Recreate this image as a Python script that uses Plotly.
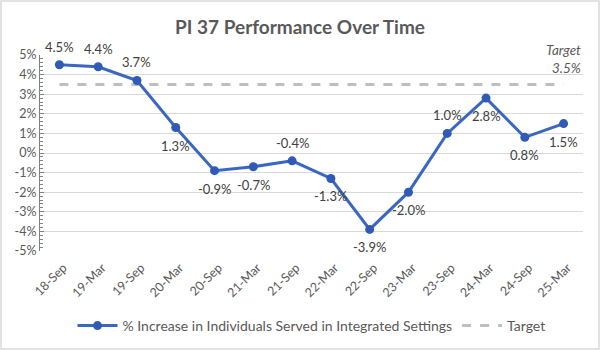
import plotly.graph_objects as go

categories = ["18-Sep", "19-Mar", "19-Sep", "20-Mar", "20-Sep", "21-Mar", "21-Sep",
              "22-Mar", "22-Sep", "23-Mar", "23-Sep", "24-Mar", "24-Sep", "25-Mar"]
pct_increase = [4.5, 4.4, 3.7, 1.3, -0.9, -0.7, -0.4, -1.3, -3.9, -2.0, 1.0, 2.8, 0.8, 1.5]
target_value = 3.5
target = [target_value] * len(categories)
y_ticks = [-5, -4, -3, -2, -1, 0, 1, 2, 3, 4, 5]
label_side = ["above", "above", "above", "below", "below", "below", "above",
              "below", "below", "below", "above", "below", "below", "below"]

FONT = "Lato"
GRAY = "#595959"

fig = go.Figure()
fig.add_trace(go.Scatter(
    x=categories, y=target, mode="lines", name="Target",
    line=dict(color="#bfbfbf", width=3, dash="dash"),
    hoverinfo="skip",
))
fig.add_trace(go.Scatter(
    x=categories, y=pct_increase, mode="lines+markers",
    name="% Increase in Individuals Served in Integrated Settings",
    line=dict(color="#3a67c2", width=3),
    marker=dict(color="#2f5bb7", size=9),
    cliponaxis=False,
))

annotations = []
for c, v, side in zip(categories, pct_increase, label_side):
    annotations.append(dict(
        x=c, y=v, xref="x", yref="y", text=f"{v:.1f}%", showarrow=False,
        yshift=18 if side == "above" else -18,
        font=dict(family=FONT, size=13, color="#404040"),
    ))
annotations.append(dict(text="<i>Target</i><br><i>3.5%</i>", xref="paper", yref="paper",
                        x=1.0, y=1 + 15 / 196, xanchor="right", yanchor="top", align="right",
                        showarrow=False, font=dict(family=FONT, size=13.5, color=GRAY)))

fig.update_layout(
    width=600, height=350,
    margin=dict(l=40, r=17, t=55, b=99, autoexpand=False),
    paper_bgcolor="white", plot_bgcolor="white",
    font=dict(family=FONT, color=GRAY),
    title=dict(text="<b>PI 37 Performance Over Time</b>", x=0.5, xanchor="center",
               y=1 - 27 / 350, yanchor="middle",
               font=dict(family=FONT, size=19, color=GRAY)),
    showlegend=True,
    legend=dict(orientation="h", x=0.5, xanchor="center", yref="container",
                y=1 - 326 / 350, yanchor="middle",
                font=dict(family=FONT, size=14, color=GRAY), traceorder="reversed",
                itemwidth=40),
    xaxis=dict(type="category", range=[-0.5, len(categories) - 0.5], automargin=False,
               showgrid=False, zeroline=False, showline=False,
               tickangle=-45, tickfont=dict(family=FONT, size=12.5, color=GRAY), ticks="",
               ticklabelstandoff=6, ticklabelshift=4),
    yaxis=dict(range=[-5, 5], tickvals=y_ticks, ticktext=[f"{t}%" for t in y_ticks],
               automargin=False,
               showgrid=True, gridcolor="#d9d9d9", gridwidth=1, zeroline=False,
               showline=True, linecolor="#808080", linewidth=1,
               ticks="inside", ticklen=4, tickcolor="#808080",
               minor=dict(dtick=0.2, ticks="inside", ticklen=3, tickcolor="#808080", showgrid=False),
               tickfont=dict(family=FONT, size=12.5, color=GRAY)),
    annotations=annotations,
    shapes=[dict(type="rect", xref="paper", yref="paper",
                 x0=-39 / 543, x1=1 + 16 / 543, y0=-98 / 196, y1=1 + 54 / 196,
                 line=dict(color="#d9d9d9", width=1.5), fillcolor="rgba(0,0,0,0)")],
)

fig.write_html("out.html")
